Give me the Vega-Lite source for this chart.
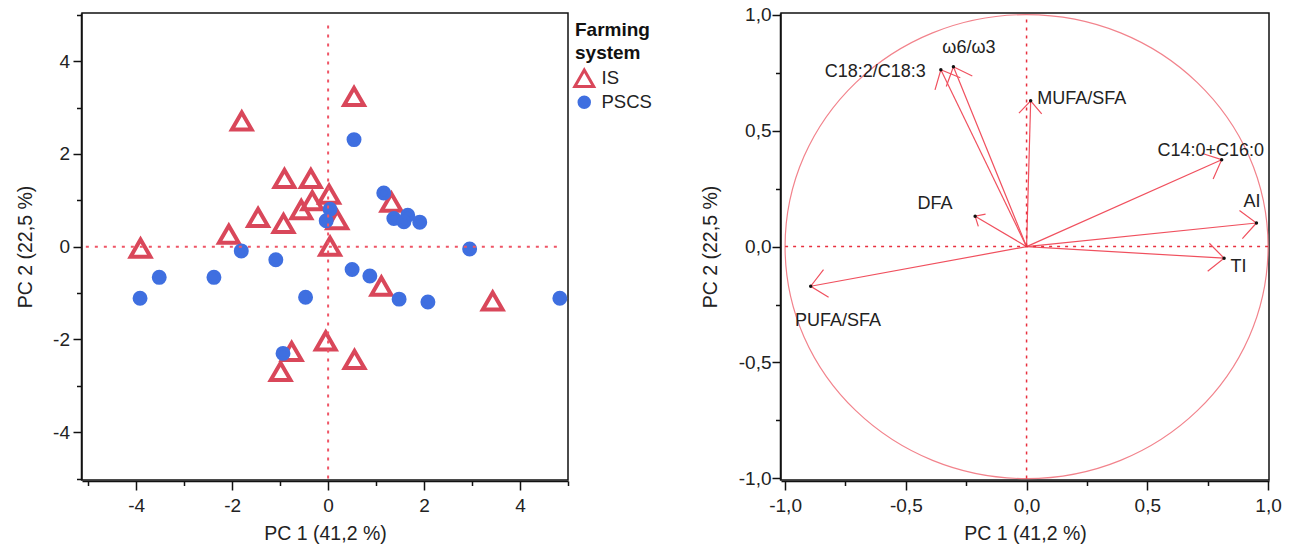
{
  "$schema": "https://vega.github.io/schema/vega-lite/v6.json",
  "background": "white",
  "padding": {"left": 14, "top": 5, "right": 0, "bottom": 0},
  "spacing": 124,
  "config": {
    "font": "Liberation Sans",
    "view": {"stroke": "#111", "strokeWidth": 1.5},
    "axis": {
      "labelFont": "Liberation Sans", "labelFontSize": 19, "labelColor": "#222",
      "titleFont": "Liberation Sans", "titleFontSize": 19.5, "titleFontWeight": "normal", "titleColor": "#222",
      "domainColor": "#111", "domainWidth": 1.5, "tickColor": "#111", "tickWidth": 1.5, "grid": false,
      "labelOverlap": false, "labelFlush": false
    },
    "legend": {
      "titleFont": "Liberation Sans", "titleFontSize": 19, "titleFontWeight": "bold", "titleColor": "#111", "titleLineHeight": 23,
      "labelFont": "Liberation Sans", "labelFontSize": 18.5, "labelColor": "#222",
      "symbolSize": 110, "symbolStrokeWidth": 3,
      "rowPadding": -12, "titlePadding": 6, "labelOffset": 8
    }
  },
  "datasets": {
    "scores": [
      {"system": "IS", "pc1": -1.80, "pc2": 2.71},
      {"system": "IS", "pc1": -3.91, "pc2": -0.03},
      {"system": "IS", "pc1": -2.07, "pc2": 0.27},
      {"system": "IS", "pc1": -1.46, "pc2": 0.63},
      {"system": "IS", "pc1": -0.93, "pc2": 0.50},
      {"system": "IS", "pc1": -0.91, "pc2": 1.47},
      {"system": "IS", "pc1": -0.36, "pc2": 1.47},
      {"system": "IS", "pc1": -0.56, "pc2": 0.80},
      {"system": "IS", "pc1": -0.33, "pc2": 0.99},
      {"system": "IS", "pc1": 0.02, "pc2": 1.13},
      {"system": "IS", "pc1": 0.19, "pc2": 0.58},
      {"system": "IS", "pc1": 0.04, "pc2": 0.01},
      {"system": "IS", "pc1": 0.54, "pc2": 3.24},
      {"system": "IS", "pc1": 1.32, "pc2": 0.96},
      {"system": "IS", "pc1": 1.11, "pc2": -0.85},
      {"system": "IS", "pc1": 3.43, "pc2": -1.17},
      {"system": "IS", "pc1": -0.05, "pc2": -2.03},
      {"system": "IS", "pc1": -0.76, "pc2": -2.26},
      {"system": "IS", "pc1": -0.99, "pc2": -2.69},
      {"system": "IS", "pc1": 0.55, "pc2": -2.43},
      {"system": "PSCS", "pc1": 0.54, "pc2": 2.31},
      {"system": "PSCS", "pc1": 1.16, "pc2": 1.16},
      {"system": "PSCS", "pc1": 1.37, "pc2": 0.61},
      {"system": "PSCS", "pc1": 1.66, "pc2": 0.68},
      {"system": "PSCS", "pc1": 1.58, "pc2": 0.54},
      {"system": "PSCS", "pc1": 1.91, "pc2": 0.53},
      {"system": "PSCS", "pc1": 0.04, "pc2": 0.81},
      {"system": "PSCS", "pc1": -0.04, "pc2": 0.56},
      {"system": "PSCS", "pc1": -1.81, "pc2": -0.09},
      {"system": "PSCS", "pc1": -1.09, "pc2": -0.28},
      {"system": "PSCS", "pc1": -3.52, "pc2": -0.66},
      {"system": "PSCS", "pc1": -2.38, "pc2": -0.66},
      {"system": "PSCS", "pc1": -3.92, "pc2": -1.11},
      {"system": "PSCS", "pc1": -0.47, "pc2": -1.09},
      {"system": "PSCS", "pc1": 0.50, "pc2": -0.49},
      {"system": "PSCS", "pc1": 0.87, "pc2": -0.63},
      {"system": "PSCS", "pc1": 1.48, "pc2": -1.13},
      {"system": "PSCS", "pc1": 2.08, "pc2": -1.19},
      {"system": "PSCS", "pc1": 2.95, "pc2": -0.05},
      {"system": "PSCS", "pc1": 4.83, "pc2": -1.11},
      {"system": "PSCS", "pc1": -0.94, "pc2": -2.30}
    ],
    "loadings": [
      {"v": "C18:2/C18:3", "pc1": -0.355, "pc2": 0.763},
      {"v": "ω6/ω3", "pc1": -0.303, "pc2": 0.776},
      {"v": "MUFA/SFA", "pc1": 0.017, "pc2": 0.629},
      {"v": "C14:0+C16:0", "pc1": 0.808, "pc2": 0.375},
      {"v": "AI", "pc1": 0.952, "pc2": 0.102},
      {"v": "TI", "pc1": 0.818, "pc2": -0.050},
      {"v": "DFA", "pc1": -0.213, "pc2": 0.131},
      {"v": "PUFA/SFA", "pc1": -0.894, "pc2": -0.171}
    ]
  },
  "hconcat": [
    {
      "width": 486,
      "height": 467,
      "data": {"name": "scores"},
      "layer": [
        {
          "mark": {"type": "point", "filled": true, "strokeWidth": 4, "strokeJoin": "miter", "size": 120, "opacity": 1},
          "encoding": {
            "x": {
              "field": "pc1", "type": "quantitative",
              "scale": {"domain": [-5.13, 5.0], "nice": false, "zero": false},
              "axis": {
                "title": "PC 1 (41,2 %)",
                "values": [-5, -4, -3, -2, -1, 0, 1, 2, 3, 4, 5],
                "labelExpr": "datum.value % 2 === 0 ? (datum.value < 0 ? '-' : '') + abs(datum.value) : ''",
                "tickSize": {"condition": {"test": "datum.value % 2 === 0", "value": 9}, "value": 4.5},
                "labelPadding": 6, "titlePadding": 9, "offset": 1
              }
            },
            "y": {
              "field": "pc2", "type": "quantitative",
              "scale": {"domain": [-5.03, 5.04], "nice": false, "zero": false},
              "axis": {
                "title": "PC 2 (22,5 %)",
                "values": [-5, -4, -3, -2, -1, 0, 1, 2, 3, 4, 5],
                "labelExpr": "datum.value % 2 === 0 ? (datum.value < 0 ? '-' : '') + abs(datum.value) : ''",
                "tickSize": {"condition": {"test": "datum.value % 2 === 0", "value": 8}, "value": 4.5},
                "labelPadding": 3.5, "titlePadding": 17, "offset": 1
              }
            },
            "shape": {
              "field": "system", "type": "nominal",
              "scale": {"domain": ["IS", "PSCS"], "range": ["M0,-1.559L1.8,1.559L-1.8,1.559Z", "circle"]},
              "legend": {"title": ["Farming", "system"], "orient": "none", "legendX": 493, "legendY": 8}
            },
            "fill": {
              "field": "system", "type": "nominal",
              "scale": {"domain": ["IS", "PSCS"], "range": ["transparent", "#3f6fe0"]},
              "legend": {"title": ["Farming", "system"], "orient": "none", "legendX": 493, "legendY": 8}
            },
            "stroke": {
              "field": "system", "type": "nominal",
              "scale": {"domain": ["IS", "PSCS"], "range": ["#d9475a", "#3f6fe0"]},
              "legend": {"title": ["Farming", "system"], "orient": "none", "legendX": 493, "legendY": 8}
            }
          }
        },
        {
          "data": {"values": [{}]},
          "mark": {"type": "rule", "color": "#ef5566", "strokeWidth": 2, "strokeDash": [3, 6]},
          "encoding": {"x": {"datum": -5.05}, "x2": {"datum": 4.87}, "y": {"datum": 0}}
        },
        {
          "data": {"values": [{}]},
          "mark": {"type": "rule", "color": "#ef5566", "strokeWidth": 2, "strokeDash": [3, 6]},
          "encoding": {"x": {"datum": 0}, "y": {"datum": -5.0}, "y2": {"datum": 4.9}}
        }
      ]
    },
    {
      "width": 488,
      "height": 467,
      "data": {"name": "loadings"},
      "layer": [
        {
          "mark": {"type": "rule", "color": "#f0505e", "strokeWidth": 1.2},
          "encoding": {
            "x": {
              "field": "pc1", "type": "quantitative",
              "scale": {"domain": [-1.017, 1.004], "nice": false, "zero": false},
              "axis": {
                "title": "PC 1 (41,2 %)",
                "values": [-1, -0.75, -0.5, -0.25, 0, 0.25, 0.5, 0.75, 1],
                "labelExpr": "abs(datum.value * 2 - round(datum.value * 2)) < 0.01 ? (datum.value < 0 ? '-' : '') + replace(format(abs(datum.value), '.1f'), '.', ',') : ''",
                "tickSize": {"condition": {"test": "abs(datum.value * 2 - round(datum.value * 2)) < 0.01", "value": 9}, "value": 4.5},
                "labelPadding": 6, "titlePadding": 9, "offset": 1
              }
            },
            "y": {
              "field": "pc2", "type": "quantitative",
              "scale": {"domain": [-1.007, 1.008], "nice": false, "zero": false},
              "axis": {
                "title": "PC 2 (22,5 %)",
                "values": [-1, -0.75, -0.5, -0.25, 0, 0.25, 0.5, 0.75, 1],
                "labelExpr": "abs(datum.value * 2 - round(datum.value * 2)) < 0.01 ? (datum.value < 0 ? '-' : '') + replace(format(abs(datum.value), '.1f'), '.', ',') : ''",
                "tickSize": {"condition": {"test": "abs(datum.value * 2 - round(datum.value * 2)) < 0.01", "value": 8}, "value": 4.5},
                "labelPadding": 1, "titlePadding": 18, "offset": 1
              }
            },
            "x2": {"datum": 0},
            "y2": {"datum": 0}
          }
        },
        {
          "data": {"values": [{}]},
          "mark": {"type": "point", "shape": "M-1,0A1,0.9607,0,1,0,1,0A1,0.9607,0,1,0,-1,0Z", "size": 233289, "filled": false, "stroke": "#f2838c", "strokeWidth": 1.2, "opacity": 1},
          "encoding": {"x": {"datum": 0, "type": "quantitative"}, "y": {"datum": 0, "type": "quantitative"}}
        },
        {
          "data": {"values": [{}]},
          "mark": {"type": "rule", "color": "#e8303f", "strokeWidth": 1.5, "strokeDash": [3, 5]},
          "encoding": {"x": {"datum": -1.0}, "x2": {"datum": 1.0}, "y": {"datum": 0}}
        },
        {
          "data": {"values": [{}]},
          "mark": {"type": "rule", "color": "#e8303f", "strokeWidth": 1.5, "strokeDash": [3, 5]},
          "encoding": {"x": {"datum": 0}, "y": {"datum": -1.0}, "y2": {"datum": 0.98}}
        },
        {
          "transform": [{"filter": "datum.v !== 'DFA' && datum.v !== 'MUFA/SFA'"}],
          "mark": {"type": "point", "shape": "M-1,-0.9L0,0L-1,0.9", "filled": false, "size": 975, "stroke": "#f0505e", "strokeWidth": 1.2, "opacity": 1,
                   "angle": {"expr": "atan2(-datum.pc2 * 232, datum.pc1 * 241.5) * 180 / PI"}},
          "encoding": {"x": {"field": "pc1", "type": "quantitative"}, "y": {"field": "pc2", "type": "quantitative"}}
        },
        {
          "transform": [{"filter": "datum.v === 'MUFA/SFA'"}],
          "mark": {"type": "point", "shape": "M-1,-0.9L0,0L-1,0.9", "filled": false, "size": 640, "stroke": "#f0505e", "strokeWidth": 1.2, "opacity": 1,
                   "angle": {"expr": "atan2(-datum.pc2 * 232, datum.pc1 * 241.5) * 180 / PI"}},
          "encoding": {"x": {"field": "pc1", "type": "quantitative"}, "y": {"field": "pc2", "type": "quantitative"}}
        },
        {
          "transform": [{"filter": "datum.v === 'DFA'"}],
          "mark": {"type": "point", "shape": "M-1,-0.9L0,0L-1,0.9", "filled": false, "size": 250, "stroke": "#f0505e", "strokeWidth": 1.2, "opacity": 1,
                   "angle": {"expr": "atan2(-datum.pc2 * 232, datum.pc1 * 241.5) * 180 / PI"}},
          "encoding": {"x": {"field": "pc1", "type": "quantitative"}, "y": {"field": "pc2", "type": "quantitative"}}
        },
        {
          "mark": {"type": "point", "shape": "circle", "filled": true, "size": 12, "color": "#111", "opacity": 1},
          "encoding": {"x": {"field": "pc1", "type": "quantitative"}, "y": {"field": "pc2", "type": "quantitative"}}
        },
        {
          "transform": [{"filter": "datum.v === 'C18:2/C18:3'"}],
          "mark": {"type": "text", "align": "right", "baseline": "middle", "dx": -15, "dy": 2, "fontSize": 18, "color": "#222"},
          "encoding": {"x": {"field": "pc1", "type": "quantitative"}, "y": {"field": "pc2", "type": "quantitative"}, "text": {"field": "v"}}
        },
        {
          "transform": [{"filter": "datum.v === 'ω6/ω3'"}],
          "mark": {"type": "text", "align": "center", "baseline": "middle", "dx": 15.5, "dy": -18.4, "fontSize": 18, "color": "#222"},
          "encoding": {"x": {"field": "pc1", "type": "quantitative"}, "y": {"field": "pc2", "type": "quantitative"}, "text": {"field": "v"}}
        },
        {
          "transform": [{"filter": "datum.v === 'MUFA/SFA'"}],
          "mark": {"type": "text", "align": "left", "baseline": "middle", "dx": 6.5, "dy": -1.7, "fontSize": 18, "color": "#222"},
          "encoding": {"x": {"field": "pc1", "type": "quantitative"}, "y": {"field": "pc2", "type": "quantitative"}, "text": {"field": "v"}}
        },
        {
          "transform": [{"filter": "datum.v === 'C14:0+C16:0'"}],
          "mark": {"type": "text", "align": "center", "baseline": "middle", "dx": -11, "dy": -9, "fontSize": 18, "color": "#222"},
          "encoding": {"x": {"field": "pc1", "type": "quantitative"}, "y": {"field": "pc2", "type": "quantitative"}, "text": {"field": "v"}}
        },
        {
          "transform": [{"filter": "datum.v === 'AI'"}],
          "mark": {"type": "text", "align": "center", "baseline": "middle", "dx": -4.5, "dy": -20.7, "fontSize": 18, "color": "#222"},
          "encoding": {"x": {"field": "pc1", "type": "quantitative"}, "y": {"field": "pc2", "type": "quantitative"}, "text": {"field": "v"}}
        },
        {
          "transform": [{"filter": "datum.v === 'TI'"}],
          "mark": {"type": "text", "align": "left", "baseline": "middle", "dx": 6.5, "dy": 9, "fontSize": 18, "color": "#222"},
          "encoding": {"x": {"field": "pc1", "type": "quantitative"}, "y": {"field": "pc2", "type": "quantitative"}, "text": {"field": "v"}}
        },
        {
          "transform": [{"filter": "datum.v === 'DFA'"}],
          "mark": {"type": "text", "align": "right", "baseline": "middle", "dx": -22.5, "dy": -12.3, "fontSize": 18, "color": "#222"},
          "encoding": {"x": {"field": "pc1", "type": "quantitative"}, "y": {"field": "pc2", "type": "quantitative"}, "text": {"field": "v"}}
        },
        {
          "transform": [{"filter": "datum.v === 'PUFA/SFA'"}],
          "mark": {"type": "text", "align": "left", "baseline": "middle", "dx": -15.7, "dy": 34.4, "fontSize": 18, "color": "#222"},
          "encoding": {"x": {"field": "pc1", "type": "quantitative"}, "y": {"field": "pc2", "type": "quantitative"}, "text": {"field": "v"}}
        }
      ]
    }
  ]
}
